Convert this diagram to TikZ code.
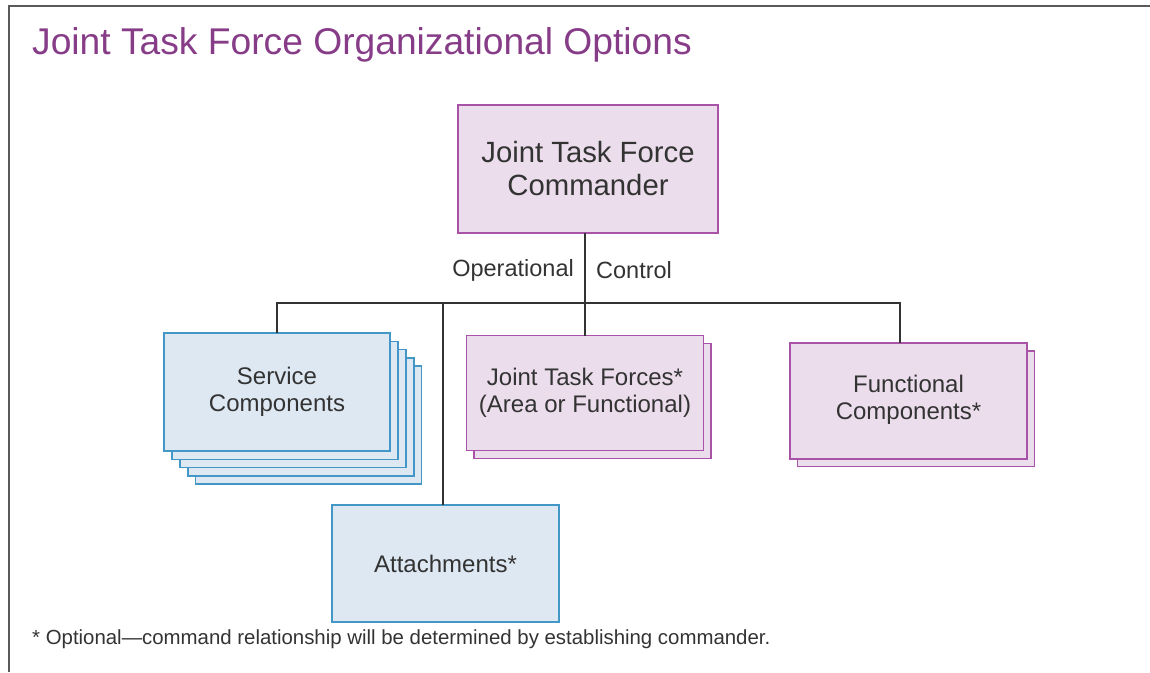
\documentclass[tikz,border=0pt]{standalone}
\usepackage{fontspec}
\setmainfont{Liberation Sans}
\usetikzlibrary{backgrounds}
\definecolor{ttl}{HTML}{873C88}
\definecolor{txt}{HTML}{333333}
\definecolor{purfill}{HTML}{EBDDEC}
\definecolor{purline}{HTML}{A953A8}
\definecolor{bluefill}{HTML}{DEE8F2}
\definecolor{blueline}{HTML}{4397C7}
\definecolor{framec}{HTML}{5A5A5A}
\tikzset{
  purbox/.style={draw=purline, fill=purfill, line width=1.6pt, inner sep=0pt, outer sep=0pt, text=txt, align=center},
  bluebox/.style={draw=blueline, fill=bluefill, line width=1.6pt, inner sep=0pt, outer sep=0pt, text=txt, align=center},
  conn/.style={draw=txt, line width=2.9pt},
  lbl/.style={text=txt, inner sep=0pt, font=\fontsize{23.5}{27}\selectfont},
  boxfont/.style={font=\fontsize{24}{27}\selectfont}
}
\begin{document}
\begin{tikzpicture}[x=1pt,y=-1pt]
\useasboundingbox (0,0) rectangle (1150,672);
\draw[framec, line width=2pt] (8.5,672) -- (8.5,5.5) -- (1150,5.5);
\node[anchor=base west, inner sep=0pt, text=ttl, font=\fontsize{37.2}{40}\selectfont] (title) at (32,54) {Joint Task Force Organizational Options};
% commander
\node[purbox, minimum width=260pt, minimum height=128pt, font=\fontsize{29.3}{33}\selectfont] (cmd) at (588,169) {Joint Task Force\\Commander};
% JTFs
\node[purbox, boxfont, minimum width=237pt, minimum height=115pt] (jtf) at (585,393) {Joint Task Forces*\\(Area or Functional)};
% Functional
\node[purbox, boxfont, minimum width=237pt, minimum height=115.5pt] (fc) at (908.5,401) {\raisebox{8pt}{\begin{tabular}{@{}c@{}}Functional\\Components*\end{tabular}}};
% Service
\node[bluebox, boxfont, minimum width=226pt, minimum height=118pt] (sc) at (277,392) {Service\\Components};
% Attachments
\node[bluebox, boxfont, minimum width=227pt, minimum height=117pt] (att) at (445.5,563.5) {Attachments*};
\begin{pgfonlayer}{background}
  \foreach \k in {4,3,2,1}{
    \draw[bluebox] ([shift={(7.9*\k,8.3*\k)}]sc.south west) rectangle ([shift={(7.9*\k,8.3*\k)}]sc.north east);
  }
  \draw[purbox] ([shift={(7.5,8)}]jtf.south west) rectangle ([shift={(7.5,8)}]jtf.north east);
  \draw[purbox] ([shift={(7.5,7.7)}]fc.south west) rectangle ([shift={(7.5,7.7)}]fc.north east);
\end{pgfonlayer}
% connectors
\coordinate (busR) at (900,303);
\coordinate (attTop) at (443,303);
\draw[conn] (cmd.south -| jtf.north) -- (jtf.north);
\draw[conn] (sc.north) |- (busR) -- (busR |- fc.north);
\draw[conn] (attTop) -- (attTop |- att.north);
\node[lbl, anchor=east] (op) at (574,270) {Operational};
\node[lbl, anchor=west] (ctl) at (596,270) {Control};
\node[anchor=base west, inner sep=0pt, text=txt, font=\fontsize{20.4}{23}\selectfont] (note) at (32,644) {* Optional—command relationship will be determined by establishing commander.};
\end{tikzpicture}
\end{document}
